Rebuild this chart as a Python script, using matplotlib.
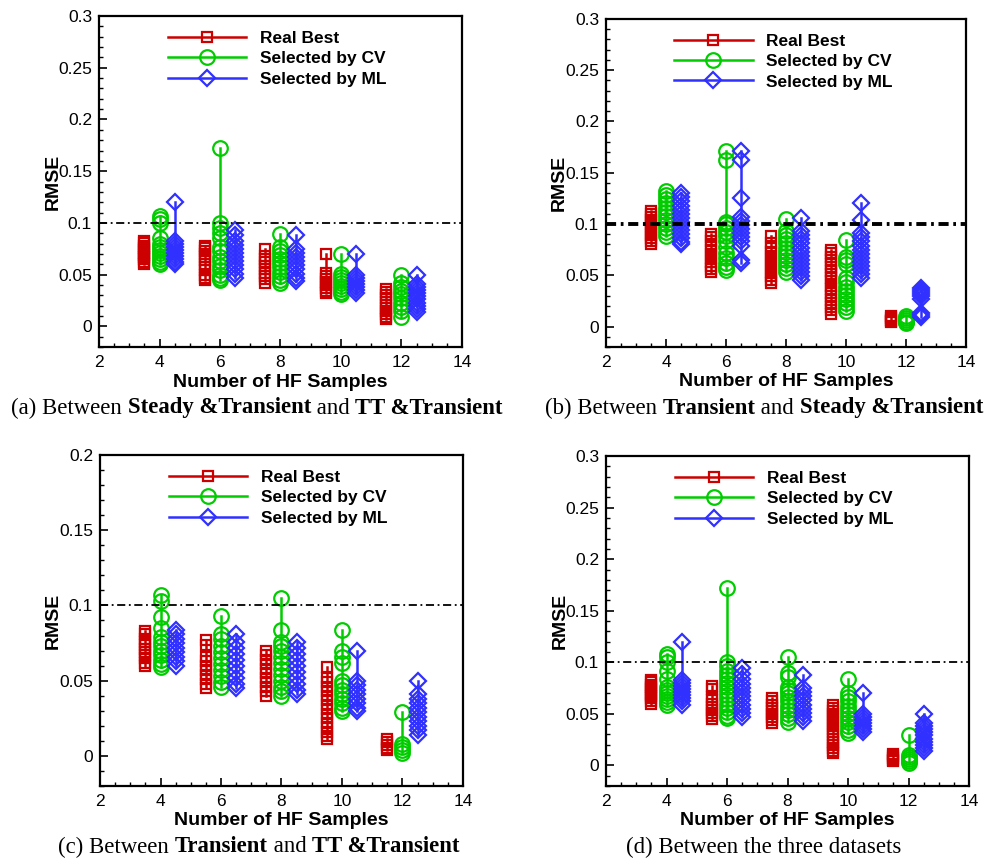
import numpy as np
import matplotlib
matplotlib.use("Agg")
import matplotlib.pyplot as plt

plt.rcParams['font.family'] = ['Liberation Sans', 'DejaVu Sans']

n_hf = [4, 6, 8, 10, 12]
labels = ["Real Best", "Selected by CV", "Selected by ML"]
colors = ["#cc0000", "#00cc00", "#3030ff"]
markers = ["s", "o", "D"]
msizes = [7.5, 10.5, 8]

# (a) Steady & Transient vs TT & Transient
a_best = [
    [0.083, 0.081, 0.078, 0.076, 0.074, 0.071, 0.069, 0.067, 0.065, 0.062, 0.06],
    [0.078, 0.076, 0.073, 0.07, 0.067, 0.064, 0.06, 0.057, 0.054, 0.05, 0.047, 0.045],
    [0.075, 0.068, 0.065, 0.062, 0.058, 0.055, 0.052, 0.049, 0.046, 0.042],
    [0.07, 0.052, 0.049, 0.046, 0.043, 0.04, 0.037, 0.034, 0.032],
    [0.036, 0.033, 0.03, 0.027, 0.024, 0.021, 0.018, 0.015, 0.012, 0.009, 0.007],
]
a_cv = [
    [0.107, 0.104, 0.1, 0.085, 0.08, 0.077, 0.074, 0.071, 0.068, 0.065, 0.062, 0.06],
    [0.172, 0.1, 0.095, 0.09, 0.085, 0.077, 0.073, 0.067, 0.063, 0.058, 0.054, 0.05, 0.047, 0.045],
    [0.089, 0.077, 0.073, 0.069, 0.065, 0.061, 0.057, 0.053, 0.049, 0.045, 0.042],
    [0.07, 0.051, 0.048, 0.045, 0.042, 0.039, 0.036, 0.033, 0.031],
    [0.05, 0.042, 0.038, 0.034, 0.031, 0.027, 0.023, 0.019, 0.015, 0.009],
]
a_ml = [
    [0.12, 0.083, 0.08, 0.077, 0.074, 0.071, 0.068, 0.065, 0.062, 0.06],
    [0.093, 0.088, 0.083, 0.079, 0.075, 0.071, 0.067, 0.063, 0.059, 0.055, 0.051, 0.047],
    [0.088, 0.075, 0.071, 0.067, 0.063, 0.059, 0.055, 0.051, 0.047, 0.044],
    [0.07, 0.05, 0.047, 0.044, 0.041, 0.038, 0.035, 0.032],
    [0.05, 0.041, 0.038, 0.035, 0.032, 0.029, 0.026, 0.023, 0.02, 0.017, 0.014],
]

# (b) Transient vs Steady & Transient
b_best = [
    [0.113, 0.11, 0.107, 0.104, 0.101, 0.098, 0.095, 0.092, 0.089, 0.086, 0.083, 0.08],
    [0.09, 0.087, 0.083, 0.079, 0.075, 0.071, 0.067, 0.063, 0.059, 0.056, 0.053],
    [0.088, 0.081, 0.077, 0.073, 0.069, 0.065, 0.061, 0.057, 0.053, 0.049, 0.045, 0.042],
    [0.075, 0.072, 0.068, 0.065, 0.061, 0.058, 0.054, 0.051, 0.047, 0.044, 0.04, 0.037,
     0.033, 0.03, 0.026, 0.023, 0.019, 0.016, 0.012],
    [0.01, 0.008, 0.006, 0.005, 0.004],
]
b_cv = [
    [0.132, 0.128, 0.124, 0.12, 0.116, 0.112, 0.108, 0.104, 0.1, 0.096, 0.092, 0.088],
    [0.171, 0.162, 0.102, 0.1, 0.096, 0.092, 0.088, 0.083, 0.078, 0.072, 0.067, 0.062, 0.058, 0.055],
    [0.105, 0.093, 0.089, 0.085, 0.081, 0.077, 0.073, 0.069, 0.065, 0.061, 0.057, 0.053],
    [0.084, 0.068, 0.065, 0.061, 0.047, 0.043, 0.039, 0.035, 0.031, 0.027, 0.023, 0.019, 0.015],
    [0.01, 0.008, 0.006, 0.004, 0.003],
]
b_ml = [
    [0.13, 0.126, 0.122, 0.118, 0.114, 0.11, 0.106, 0.102, 0.098, 0.094, 0.09, 0.086, 0.082, 0.08],
    [0.171, 0.162, 0.125, 0.107, 0.103, 0.099, 0.095, 0.091, 0.087, 0.083, 0.079, 0.065, 0.062],
    [0.106, 0.093, 0.089, 0.085, 0.081, 0.077, 0.073, 0.069, 0.065, 0.061, 0.057, 0.053, 0.049, 0.045],
    [0.12, 0.104, 0.091, 0.087, 0.083, 0.079, 0.075, 0.071, 0.067, 0.063, 0.059, 0.055, 0.051, 0.047],
    [0.038, 0.036, 0.034, 0.032, 0.03, 0.027, 0.013, 0.011, 0.009],
]

# (c) Transient vs TT & Transient
c_best = [
    [0.083, 0.081, 0.078, 0.076, 0.074, 0.071, 0.069, 0.067, 0.065, 0.062, 0.06],
    [0.077, 0.074, 0.066, 0.063, 0.06, 0.057, 0.054, 0.051, 0.048, 0.045],
    [0.07, 0.067, 0.064, 0.061, 0.058, 0.055, 0.052, 0.049, 0.046, 0.043, 0.04],
    [0.059, 0.052, 0.049, 0.046, 0.043, 0.04, 0.037, 0.034, 0.031, 0.028, 0.025, 0.022,
     0.019, 0.016, 0.013, 0.011],
    [0.011, 0.009, 0.007, 0.005, 0.004],
]
c_cv = [
    [0.107, 0.103, 0.092, 0.085, 0.079, 0.076, 0.073, 0.07, 0.067, 0.064, 0.061, 0.059],
    [0.093, 0.081, 0.078, 0.073, 0.069, 0.065, 0.061, 0.057, 0.053, 0.049, 0.046],
    [0.105, 0.084, 0.076, 0.073, 0.07, 0.066, 0.062, 0.058, 0.054, 0.05, 0.046, 0.043, 0.04],
    [0.084, 0.07, 0.066, 0.062, 0.05, 0.047, 0.044, 0.041, 0.038, 0.035, 0.032, 0.03],
    [0.029, 0.008, 0.006, 0.004, 0.002],
]
c_ml = [
    [0.084, 0.081, 0.078, 0.075, 0.072, 0.069, 0.066, 0.063, 0.06],
    [0.081, 0.076, 0.072, 0.068, 0.064, 0.06, 0.056, 0.052, 0.048, 0.045],
    [0.076, 0.072, 0.068, 0.064, 0.06, 0.056, 0.052, 0.048, 0.044, 0.041],
    [0.07, 0.05, 0.047, 0.044, 0.041, 0.038, 0.035, 0.032, 0.03],
    [0.05, 0.041, 0.038, 0.035, 0.032, 0.029, 0.026, 0.023, 0.02, 0.017, 0.014],
]

# (d) three datasets
d_best = [
    [0.083, 0.081, 0.078, 0.076, 0.074, 0.071, 0.069, 0.067, 0.065, 0.062, 0.06],
    [0.077, 0.074, 0.066, 0.063, 0.06, 0.057, 0.054, 0.051, 0.048, 0.045],
    [0.065, 0.062, 0.059, 0.056, 0.053, 0.05, 0.047, 0.044, 0.041],
    [0.059, 0.056, 0.053, 0.05, 0.047, 0.044, 0.041, 0.038, 0.035, 0.032, 0.029, 0.026,
     0.023, 0.02, 0.017, 0.014, 0.012],
    [0.011, 0.009, 0.007, 0.005, 0.004],
]
d_cv = [
    [0.108, 0.105, 0.1, 0.092, 0.084, 0.076, 0.073, 0.07, 0.067, 0.064, 0.061, 0.059],
    [0.172, 0.1, 0.096, 0.092, 0.088, 0.084, 0.08, 0.076, 0.072, 0.068, 0.064, 0.06, 0.056,
     0.052, 0.048, 0.046],
    [0.105, 0.09, 0.086, 0.076, 0.073, 0.07, 0.066, 0.062, 0.058, 0.054, 0.05, 0.046, 0.042],
    [0.084, 0.07, 0.066, 0.062, 0.058, 0.054, 0.05, 0.046, 0.042, 0.038, 0.034, 0.031],
    [0.029, 0.01, 0.008, 0.006, 0.004, 0.002],
]
d_ml = [
    [0.12, 0.083, 0.08, 0.077, 0.074, 0.071, 0.068, 0.065, 0.062, 0.059],
    [0.094, 0.089, 0.084, 0.079, 0.075, 0.071, 0.067, 0.063, 0.059, 0.055, 0.051, 0.047],
    [0.088, 0.075, 0.071, 0.067, 0.063, 0.059, 0.055, 0.051, 0.047, 0.043],
    [0.07, 0.05, 0.047, 0.044, 0.041, 0.038, 0.035, 0.032],
    [0.05, 0.041, 0.038, 0.035, 0.032, 0.029, 0.026, 0.023, 0.02, 0.017, 0.014],
]

cap_a = [("(a) Between ", "normal"), ("Steady &Transient", "bold"), (" and ", "normal"), ("TT &Transient", "bold")]
cap_b = [("(b) Between ", "normal"), ("Transient", "bold"), (" and ", "normal"), ("Steady &Transient", "bold")]
cap_c = [("(c) Between ", "normal"), ("Transient", "bold"), (" and ", "normal"), ("TT &Transient", "bold")]
cap_d = [("(d) Between the three datasets", "normal")]

panels = [
    dict(data=[a_best, a_cv, a_ml], ymax=0.3, pos=[0.099, 0.596, 0.363, 0.3853], lw_ref=1.3,
         dash=(4.5, 2, 1, 2), caption=cap_a, cpos=(257, 408), ylx=-0.102),
    dict(data=[b_best, b_cv, b_ml], ymax=0.3, pos=[0.606, 0.596, 0.360, 0.382], lw_ref=2.8,
         dash=(2.6, 1.2, 0.7, 1.2), caption=cap_b, cpos=(764, 408), ylx=-0.105),
    dict(data=[c_best, c_cv, c_ml], ymax=0.2, pos=[0.100, 0.085, 0.363, 0.3853], lw_ref=1.3,
         dash=(4.5, 2, 1, 2), caption=cap_c, cpos=(259, 847), ylx=-0.104),
    dict(data=[d_best, d_cv, d_ml], ymax=0.3, pos=[0.606, 0.085, 0.363, 0.384], lw_ref=1.3,
         dash=(4.5, 2, 1, 2), caption=cap_d, cpos=(764, 847), ylx=-0.103),
]

fig = plt.figure(figsize=(10, 8.59), dpi=100)
renderer = fig.canvas.get_renderer()

for p in panels:
    ax = fig.add_axes(p["pos"])
    for k in range(3):
        for i, n in enumerate(n_hf):
            x = n + (k - 1) * 0.5
            vals = sorted(p["data"][k][i])
            ax.plot([x] * len(vals), vals, color=colors[k], marker=markers[k], ms=msizes[k],
                    mfc='none', mew=1.6, lw=1.8,
                    label=labels[k] if i == 0 else None)
    ax.axhline(0.1, color='black', lw=p["lw_ref"], ls=(0, p["dash"]))
    ax.set_xlim(2, 14)
    ax.set_ylim(-0.02, p["ymax"])
    ax.set_xticks(range(2, 15, 2))
    ax.set_xticks(np.arange(2, 14.01, 0.5), minor=True)
    yt = np.arange(0, p["ymax"] + 0.001, 0.05).round(2)
    ax.set_yticks(yt)
    ax.set_yticks(np.arange(-0.02, p["ymax"] + 0.001, 0.01), minor=True)
    ax.set_yticklabels(["%g" % v for v in yt])
    ax.tick_params(which='both', direction='in', top=False, right=False, labelsize=12.5)
    ax.tick_params(axis='x', pad=6)
    ax.tick_params(axis='y', pad=5)
    ax.tick_params(which='major', length=6, width=1.2)
    ax.tick_params(which='minor', length=3, width=1.0)
    for s in ax.spines.values():
        s.set_linewidth(1.6)
    ax.set_xlabel("Number of HF Samples", fontsize=14, fontweight='bold')
    ax.set_ylabel("RMSE", fontsize=14, fontweight='bold')
    ax.xaxis.set_label_coords(0.5, -0.08)
    ax.yaxis.set_label_coords(p["ylx"], 0.5)
    ax.legend(loc='upper left', bbox_to_anchor=(0.19, 0.955), frameon=False,
              prop={'weight': 'bold', 'size': 12.5}, handlelength=4.5, handletextpad=0.8,
              labelspacing=0.3, borderpad=0, borderaxespad=0)

    # caption with mixed weights, laid out piece by piece in pixels
    pieces = []
    for txt, w in p["caption"]:
        t = fig.text(0, 0, txt, fontsize=16.4, family='Liberation Serif', weight=w,
                     ha='left', va='center', transform=None)
        pieces.append(t)
    widths = [t.get_window_extent(renderer).width for t in pieces]
    x0 = p["cpos"][0] - sum(widths) / 2
    ypix = 859 - p["cpos"][1]
    for t, w in zip(pieces, widths):
        t.set_position((x0, ypix))
        x0 += w

fig.savefig("out.png", dpi=100)
